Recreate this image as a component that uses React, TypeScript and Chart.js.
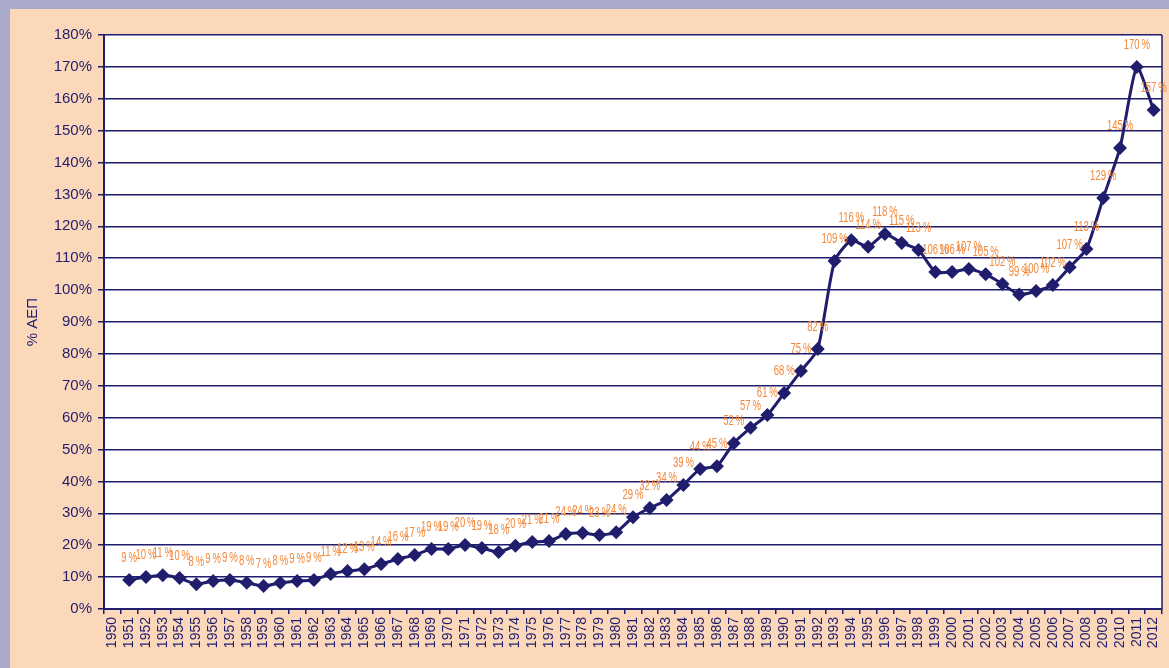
import React, { useEffect, useRef } from "react";
import { Chart, registerables } from "chart.js";

Chart.register(...registerables);

const years: string[] = [
  "1950", "1951", "1952", "1953", "1954", "1955", "1956", "1957", "1958", "1959",
  "1960", "1961", "1962", "1963", "1964", "1965", "1966", "1967", "1968", "1969",
  "1970", "1971", "1972", "1973", "1974", "1975", "1976", "1977", "1978", "1979",
  "1980", "1981", "1982", "1983", "1984", "1985", "1986", "1987", "1988", "1989",
  "1990", "1991", "1992", "1993", "1994", "1995", "1996", "1997", "1998", "1999",
  "2000", "2001", "2002", "2003", "2004", "2005", "2006", "2007", "2008", "2009",
  "2010", "2011", "2012",
];

// Public debt as % of GDP (ΑΕΠ)
const debtRatio: (number | null)[] = [
  null, 9.1, 10.0, 10.6, 9.7, 7.8, 8.8, 9.1, 8.2, 7.2,
  8.2, 8.8, 9.1, 11.0, 11.9, 12.5, 14.1, 15.7, 16.9, 18.8,
  18.8, 20.1, 19.1, 17.9, 19.8, 21.0, 21.3, 23.5, 23.8, 23.2,
  24.1, 28.8, 31.7, 34.2, 38.9, 43.9, 44.8, 52.0, 56.8, 60.8,
  67.7, 74.6, 81.5, 109.1, 115.6, 113.6, 117.6, 114.8, 112.6, 105.7,
  105.7, 106.6, 105.0, 101.9, 98.6, 99.7, 101.6, 107.2, 112.9, 128.9,
  144.6, 170.0, 156.5,
];

const yMin = 0;
const yMax = 180;
const yStep = 10;
const yTitle = "% ΑΕΠ";

const NAVY = "#211d6d";
const ORANGE = "#f4883a";
const PEACH = "#fcd8bb";
const LAVENDER = "#aaaacb";
const FONT = '"Liberation Sans", Arial, Helvetica, sans-serif';

const decorPlugin = {
  id: "decor",
  beforeDraw(chart: any) {
    const { ctx, chartArea } = chart;
    ctx.save();
    ctx.fillStyle = "#ffffff";
    ctx.fillRect(chartArea.left, chartArea.top, chartArea.right - chartArea.left, chartArea.bottom - chartArea.top);
    ctx.restore();
  },
  afterDraw(chart: any) {
    const { ctx, chartArea } = chart;
    ctx.save();
    // right border of plot
    ctx.strokeStyle = NAVY;
    ctx.lineWidth = 1.5;
    ctx.beginPath();
    ctx.moveTo(chartArea.right, chartArea.top);
    ctx.lineTo(chartArea.right, chartArea.bottom);
    ctx.stroke();
    // y-axis title
    ctx.fillStyle = NAVY;
    ctx.font = `15px ${FONT}`;
    ctx.textAlign = "center";
    ctx.textBaseline = "middle";
    ctx.translate(33, (chartArea.top + chartArea.bottom) / 2);
    ctx.rotate(-Math.PI / 2);
    ctx.fillText(yTitle, 0, 0);
    ctx.restore();

    // data labels
    const meta = chart.getDatasetMeta(0);
    ctx.save();
    ctx.fillStyle = ORANGE;
    ctx.font = `14px ${FONT}`;
    ctx.textAlign = "center";
    ctx.textBaseline = "middle";
    meta.data.forEach((pt: any, i: number) => {
      const v = debtRatio[i];
      if (v == null) return;
      const text = Math.round(v) + "\u2009%";
      ctx.save();
      ctx.translate(pt.x, pt.y - 22);
      ctx.scale(0.68, 1);
      ctx.fillText(text, 0, 0);
      ctx.restore();
    });
    ctx.restore();
  },
};

export default function App() {
  const canvasRef = useRef<HTMLCanvasElement | null>(null);

  useEffect(() => {
    const canvas = canvasRef.current;
    if (!canvas) return;
    const chart = new Chart(canvas, {
      type: "line",
      data: {
        labels: years,
        datasets: [
          {
            data: debtRatio,
            borderColor: NAVY,
            backgroundColor: NAVY,
            borderWidth: 3,
            pointStyle: "rectRot",
            pointRadius: 7,
            pointBackgroundColor: NAVY,
            pointBorderColor: NAVY,
            pointBorderWidth: 0,
            tension: 0.2,
            fill: false,
          },
        ],
      },
      options: {
        responsive: false,
        animation: false,
        devicePixelRatio: 1,
        layout: { padding: { top: 35, right: 3, left: 0, bottom: 0 } },
        plugins: {
          legend: { display: false },
          tooltip: { enabled: false },
          title: { display: false },
        },
        scales: {
          x: {
            type: "category",
            offset: true,
            grid: {
              offset: true,
              drawOnChartArea: false,
              drawTicks: true,
              tickLength: 5,
              color: NAVY,
              lineWidth: 1.5,
            },
            border: { color: NAVY, width: 2 },
            ticks: {
              autoSkip: false,
              maxRotation: 90,
              minRotation: 90,
              padding: 3,
              color: NAVY,
              font: { family: FONT, size: 14 },
            },
            afterFit: (scale: any) => {
              scale.height = 59;
              scale.paddingLeft = 0;
              scale.paddingRight = 0;
            },
          },
          y: {
            min: yMin,
            max: yMax,
            grid: {
              color: NAVY,
              lineWidth: 1.5,
              drawTicks: true,
              tickLength: 6,
            },
            border: { color: NAVY, width: 2 },
            ticks: {
              stepSize: yStep,
              padding: 6,
              color: NAVY,
              font: { family: FONT, size: 15 },
              callback: (v: any) => v + "%",
            },
            afterFit: (scale: any) => {
              scale.width = 104;
              scale.paddingTop = 0;
              scale.paddingBottom = 0;
            },
          },
        },
      },
      plugins: [decorPlugin],
    });
    return () => chart.destroy();
  }, []);

  return (
    <div
      style={{
        position: "absolute",
        left: 0,
        top: 0,
        width: 1169,
        height: 668,
        background: LAVENDER,
        overflow: "hidden",
      }}
    >
      <div
        style={{
          position: "absolute",
          left: 10,
          top: 9,
          width: 1159,
          height: 659,
          background: PEACH,
        }}
      />
      <canvas
        ref={canvasRef}
        width={1169}
        height={668}
        style={{ position: "absolute", left: 0, top: 0, width: 1169, height: 668 }}
      />
    </div>
  );
}
